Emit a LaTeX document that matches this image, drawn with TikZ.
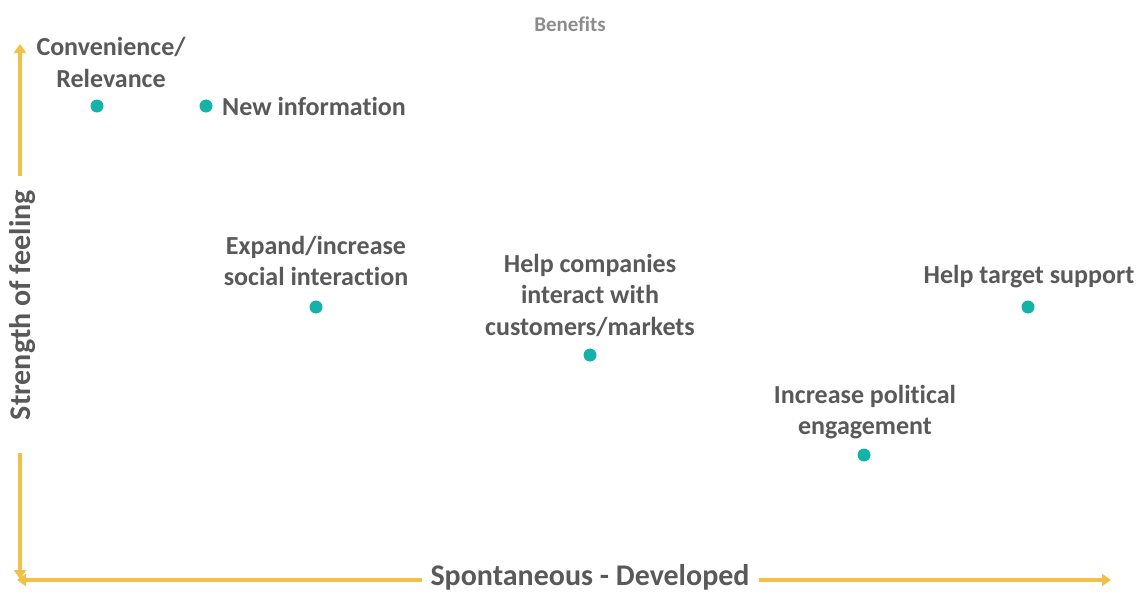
\documentclass[tikz,border=0pt]{standalone}
\usepackage{fontspec}
\setmainfont{Carlito}[Ligatures={NoCommon}]
\usetikzlibrary{arrows.meta}
\definecolor{axisgold}{HTML}{F2BF48}
\definecolor{dotteal}{HTML}{14B2A8}
\definecolor{labelgray}{HTML}{595959}
\definecolor{titlegray}{HTML}{8C8C8C}
\begin{document}
\begin{tikzpicture}[x=1pt,y=-1pt,
  axis/.style={draw=axisgold,line width=3.6pt,-{Triangle[length=9pt,width=12pt]}},
  point/.style={circle,fill=dotteal,inner sep=0pt,minimum size=13pt},
  lbl/.style={text=labelgray,font=\bfseries\fontsize{26}{31.5}\selectfont,align=center,inner sep=0pt},
  axislbl/.style={text=labelgray,font=\bfseries\fontsize{30}{34}\selectfont,inner sep=0pt},
  ttl/.style={text=titlegray,font=\bfseries\fontsize{21}{24}\selectfont,inner sep=0pt}]
\useasboundingbox (0,0) rectangle (1141,592);

% title
\node[ttl] (title) at (570,24) {Benefits};

% axes with their labels
\node[axislbl,rotate=90] (ylab) at (23,305) {Strength of feeling};
\node[axislbl] (xlab) at (590,577) {Spontaneous - Developed};
\coordinate (ytop) at (20,44);
\coordinate (ybot) at (20,579);
\coordinate (xleft) at (17,580);
\coordinate (xright) at (1111,580);
\coordinate (yu) at (20,176);
\coordinate (yd) at (20,453);
\coordinate (xl) at (422,580);
\coordinate (xr) at (759,580);
\draw[axis] (yu) -- (ytop);
\draw[axis] (yd) -- (ybot);
\draw[axis] (xl) -- (xleft);
\draw[axis] (xr) -- (xright);

% data points
\node[point] (p1) at (97,106) {};
\node[point] (p2) at (206,106) {};
\node[point] (p3) at (316,307) {};
\node[point] (p4) at (590,355) {};
\node[point] (p5) at (864,455) {};
\node[point] (p6) at (1028,307) {};

% point labels
\node[lbl] (t1) at (111,62.5) {Convenience/\\Relevance};
\node[lbl,anchor=west] (t2) at (222,106) {New information};
\node[lbl] (t3) at (316,261) {Expand/increase\\social interaction};
\node[lbl] (t4) at (590,295) {Help companies\\interact with\\customers/markets};
\node[lbl] (t5) at (865,412) {Increase political\\engagement};
\node[lbl] (t6) at (1029,277) {Help target support};
\end{tikzpicture}
\end{document}
